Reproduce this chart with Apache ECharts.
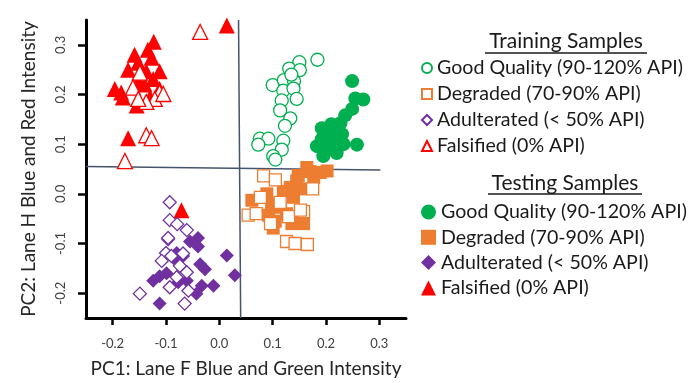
<!DOCTYPE html>
<html>
<head>
<meta charset="utf-8">
<script src="https://cdn.jsdelivr.net/npm/echarts@6/dist/echarts.min.js"></script>
<style>
html,body{margin:0;padding:0;background:#fff;}
#c{width:688px;height:383px;}
</style>
</head>
<body>
<div id="c"></div>
<script>
// ---- data ----
const tickValues = [-0.2, -0.1, 0.0, 0.1, 0.2, 0.3];
const labels = ['Good Quality (90-120% API)', 'Degraded (70-90% API)', 'Adulterated (< 50% API)', 'Falsified (0% API)'];

const trainGood = [[0.184,0.270],[0.150,0.265],[0.131,0.252],[0.151,0.249],[0.100,0.219],[0.121,0.229],[0.140,0.227],[0.120,0.208],[0.139,0.212],[0.145,0.191],[0.117,0.188],[0.114,0.168],[0.133,0.152],[0.123,0.137],[0.076,0.111],[0.092,0.111],[0.073,0.099],[0.120,0.107],[0.117,0.089],[0.101,0.076],[0.105,0.069],[0.135,0.240]];
const testGood = [[0.249,0.227],[0.270,0.190],[0.255,0.192],[0.249,0.171],[0.236,0.158],[0.227,0.142],[0.214,0.132],[0.192,0.132],[0.220,0.112],[0.202,0.112],[0.183,0.096],[0.208,0.092],[0.258,0.099],[0.233,0.100],[0.195,0.076],[0.220,0.082],[0.192,0.110],[0.230,0.120],[0.210,0.140],[0.200,0.100]];
const trainDegraded = [[0.083,0.036],[0.105,0.028],[0.054,-0.043],[0.069,-0.040],[0.130,-0.046],[0.158,-0.036],[0.126,-0.096],[0.142,-0.100],[0.165,-0.102],[0.152,-0.033],[0.114,-0.017],[0.077,-0.007],[0.096,-0.060],[0.175,0.010]];
const testDegraded = [[0.164,0.053],[0.189,0.043],[0.202,0.046],[0.145,0.026],[0.133,0.013],[0.152,0.010],[0.061,-0.013],[0.089,0.000],[0.098,-0.020],[0.114,-0.027],[0.126,-0.040],[0.145,-0.050],[0.158,-0.060],[0.136,-0.060],[0.101,-0.069],[0.092,-0.043],[0.177,0.033],[0.148,0.037],[0.139,-0.007],[0.105,-0.055],[0.170,0.045],[0.120,0.005]];
const trainAdult = [[-0.093,-0.017],[-0.093,-0.053],[-0.079,-0.061],[-0.061,-0.073],[-0.096,-0.089],[-0.100,-0.119],[-0.108,-0.135],[-0.090,-0.125],[-0.074,-0.145],[-0.061,-0.158],[-0.093,-0.188],[-0.058,-0.195],[-0.149,-0.201],[-0.065,-0.221],[-0.080,-0.168],[-0.068,-0.120]];
const testAdult = [[-0.096,-0.092],[-0.055,-0.096],[-0.040,-0.089],[-0.040,-0.106],[-0.080,-0.119],[-0.068,-0.125],[0.014,-0.124],[-0.036,-0.142],[-0.027,-0.152],[0.029,-0.164],[-0.124,-0.175],[-0.112,-0.166],[-0.099,-0.160],[-0.077,-0.178],[-0.061,-0.175],[-0.033,-0.185],[-0.011,-0.185],[-0.043,-0.201],[-0.112,-0.221],[-0.085,-0.130]];
const trainFals = [[-0.036,0.326],[-0.137,0.118],[-0.127,0.112],[-0.177,0.066],[-0.149,0.244],[-0.162,0.214],[-0.112,0.204],[-0.121,0.191],[-0.137,0.185],[-0.152,0.191],[-0.105,0.201]];
const testFals = [[0.014,0.339],[-0.123,0.306],[-0.134,0.290],[-0.159,0.280],[-0.127,0.274],[-0.152,0.264],[-0.171,0.250],[-0.112,0.247],[-0.137,0.247],[-0.124,0.231],[-0.152,0.227],[-0.196,0.211],[-0.184,0.204],[-0.181,0.194],[-0.130,0.194],[-0.155,0.178],[-0.112,0.211],[-0.171,0.112],[-0.071,-0.033],[-0.140,0.220]];
const hLine = [[-0.25,0.055],[0.302,0.048]];
const vLine = [[0.036,0.35],[0.040,-0.25]];

// ---- styling ----
const FONT = 'Lato';
const colors = ['#00b050', '#ed7d31', '#7030a0', '#ff0000'];
const symbols = ['circle', 'rect', 'diamond', 'triangle'];
const sizesFilled = [14, 13, 14, 16];
const sizesHollow = [13, 12, 13, 15];
const trainSets = [trainGood, trainDegraded, trainAdult, trainFals];
const testSets = [testGood, testDegraded, testAdult, testFals];

const series = [];
testSets.forEach((d, i) => series.push({
  name: 'test|' + labels[i], type: 'scatter', data: d, symbol: symbols[i], symbolSize: sizesFilled[i],
  itemStyle: {color: colors[i], opacity: 1}, silent: true, z: 3
}));
trainSets.forEach((d, i) => series.push({
  name: 'train|' + labels[i], type: 'scatter', data: d, symbol: symbols[i], symbolSize: sizesHollow[i],
  itemStyle: {color: '#ffffff', borderColor: colors[i], borderWidth: 1.3, opacity: 1}, silent: true, z: 4
}));
[hLine, vLine].forEach(d => series.push({
  type: 'line', data: d, symbol: 'none', silent: true, z: 2,
  lineStyle: {color: '#44546a', width: 1.5}
}));

const legendBase = {
  orient: 'vertical', left: 421, padding: 0, selectedMode: false,
  textStyle: {fontFamily: FONT, fontSize: 19.6, color: '#1a1a1a', lineHeight: 20},
  formatter: n => n.split('|')[1]
};

const chart = echarts.init(document.getElementById('c'), null, {renderer: 'canvas'});
chart.setOption({
  animation: false,
  backgroundColor: '#ffffff',
  grid: {left: 86, right: 282, top: 20, bottom: 60},
  xAxis: {
    type: 'value', min: -0.25, max: 0.35,
    name: 'PC1: Lane F Blue and Green Intensity', nameLocation: 'middle', nameGap: 41,
    nameTextStyle: {fontFamily: FONT, fontSize: 19, color: '#262626'},
    axisLine: {show: true, onZero: false, lineStyle: {color: '#000', width: 3}},
    axisTick: {show: true, customValues: tickValues, length: 7, lineStyle: {color: '#000', width: 2.5}},
    axisLabel: {customValues: tickValues, formatter: v => v.toFixed(1), fontFamily: FONT, fontSize: 13, color: '#404040', margin: 19},
    splitLine: {show: false}
  },
  yAxis: {
    type: 'value', min: -0.25, max: 0.35,
    name: 'PC2: Lane H Blue and Red Intensity', nameLocation: 'middle', nameGap: 48,
    nameTextStyle: {fontFamily: FONT, fontSize: 19, color: '#262626'},
    axisLine: {show: true, onZero: false, lineStyle: {color: '#000', width: 3}},
    axisTick: {show: true, customValues: tickValues, length: 8, lineStyle: {color: '#000', width: 2.5}},
    axisLabel: {customValues: tickValues, formatter: v => v.toFixed(1), rotate: 90, fontFamily: FONT, fontSize: 13, color: '#404040', margin: 19},
    splitLine: {show: false}
  },
  legend: [
    Object.assign({}, legendBase, {top: 58, itemGap: 6, itemWidth: 10, itemHeight: 10,
      data: labels.map(l => 'train|' + l)}),
    Object.assign({}, legendBase, {top: 202, itemGap: 5.3, itemWidth: 15, itemHeight: 15,
      data: labels.map(l => 'test|' + l)})
  ],
  graphic: [
    {type: 'text', x: 566, y: 41.7, style: {text: 'Training Samples', font: '21px ' + FONT, fill: '#1a1a1a', textAlign: 'center', textVerticalAlign: 'middle'}},
    {type: 'line', shape: {x1: 485, y1: 53, x2: 647, y2: 53}, style: {stroke: '#1a1a1a', lineWidth: 1.5}},
    {type: 'text', x: 565, y: 183, style: {text: 'Testing Samples', font: '21px ' + FONT, fill: '#1a1a1a', textAlign: 'center', textVerticalAlign: 'middle'}},
    {type: 'line', shape: {x1: 488, y1: 194, x2: 642, y2: 194}, style: {stroke: '#1a1a1a', lineWidth: 1.5}}
  ],
  series: series
});
</script>
</body>
</html>
